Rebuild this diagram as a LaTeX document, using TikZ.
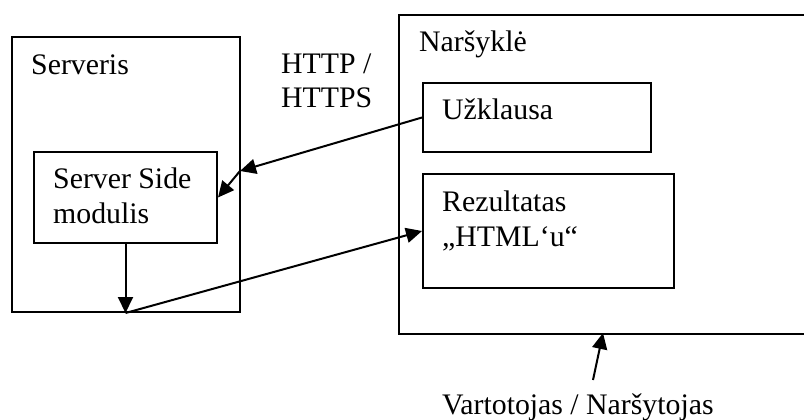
\documentclass[tikz,border=0pt]{standalone}
\usepackage{fontspec}
\setmainfont{Liberation Serif}
\usetikzlibrary{arrows.meta}
\begin{document}
\begin{tikzpicture}[x=1pt,y=-1pt,
  box/.style={draw, line width=2pt, inner sep=0pt, anchor=north west},
  lbl/.style={inner sep=0pt, anchor=base west, align=left,
    font=\fontsize{29.8}{35}\selectfont},
  arr/.style={line width=2pt, -{Triangle[length=16pt,width=15pt]}}]
\useasboundingbox (0,0) rectangle (804,420);
\clip (0,0) rectangle (804,420);
% server side
\node[box, minimum width=228pt, minimum height=275pt] (serv) at (11,36) {};
\node[box, minimum width=183pt, minimum height=91pt] (ss) at (33,151) {};
% browser side (runs off to the right)
\node[box, minimum width=440pt, minimum height=319pt] (br) at (398,14) {};
\node[box, minimum width=228pt, minimum height=69pt] (uz) at (422,82) {};
\node[box, minimum width=251pt, minimum height=114pt] (rez) at (422,173) {};
% labels (multi-line labels sit on the baseline of their last line)
\node[lbl] (tserv) at (31,75) {Serveris};
\node[lbl] (tss) at (53,223) {Server Side\\modulis};
\node[lbl] (thttp) at (281,108) {HTTP /\\HTTPS};
\node[lbl] (tbr) at (419,52) {Naršyklė};
\node[lbl] (tuz) at (442,119) {Užklausa};
\node[lbl] (trez) at (442,246) {Rezultatas\\„HTML‘u“};
\node[lbl] (tuser) at (442,414) {Vartotojas / Naršytojas};
% connectors
\coordinate (bend) at (240,171);
\coordinate (foot) at (ss.south |- serv.south);
\coordinate (user) at (593,380);
\coordinate (brin) at (603,333);
\draw[arr] (uz.west) -- (bend);
\draw[arr] (bend) -- (ss.east);
\draw[arr] (ss.south) -- (foot);
\draw[arr] (foot) -- (rez.west);
\draw[arr] (user) -- (brin);
\end{tikzpicture}
\end{document}
